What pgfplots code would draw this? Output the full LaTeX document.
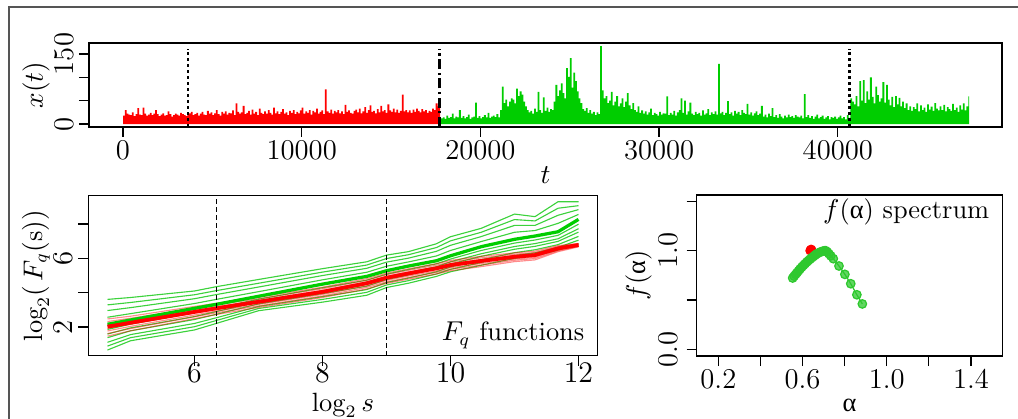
\documentclass[border=0pt]{standalone}
\usepackage{fontspec}
\usepackage{pgfplots}
\pgfplotsset{compat=1.18}
\usepackage{pgfplotstable}
\newfontfamily\grfont{Liberation Serif}
\definecolor{rgreen}{HTML}{00CD00}
\definecolor{lgreen}{HTML}{3CD23C}
\definecolor{fgreen}{HTML}{2EC82E}
\definecolor{framegray}{HTML}{555555}

\pgfplotstableread{
x T L2 L3 L4 G L6 L7 L8 L9 L10 B R R1 R2 R3 R4 R5 R6 R7 R8
4.64 3.61 3.29 2.96 2.57 2.16 1.86 1.59 1.38 1.11 0.89 0.66 2.02 2.47 2.32 2.17 2.07 1.92 1.77 1.62 1.47
5.00 3.72 3.43 3.13 2.78 2.41 2.17 1.95 1.78 1.56 1.38 1.20 2.25 2.63 2.51 2.38 2.29 2.16 2.04 1.91 1.78
6.00 4.10 3.88 3.65 3.37 3.09 2.84 2.61 2.44 2.21 2.02 1.83 2.88 3.20 3.09 2.99 2.92 2.81 2.70 2.60 2.49
6.34 4.35 4.12 3.89 3.61 3.32 3.10 2.90 2.74 2.54 2.38 2.21 3.09 3.38 3.29 3.19 3.12 3.02 2.93 2.83 2.73
7.00 4.77 4.55 4.33 4.06 3.79 3.62 3.47 3.35 3.20 3.08 2.95 3.47 3.74 3.65 3.56 3.50 3.41 3.32 3.23 3.14
8.00 5.40 5.20 5.00 4.75 4.50 4.29 4.10 3.95 3.77 3.61 3.45 4.05 4.32 4.23 4.14 4.08 3.99 3.90 3.81 3.72
8.69 5.80 5.61 5.42 5.19 4.95 4.73 4.53 4.38 4.18 4.02 3.85 4.55 4.82 4.73 4.64 4.58 4.49 4.40 4.31 4.22
9.00 6.19 5.99 5.78 5.54 5.28 5.08 4.91 4.77 4.59 4.45 4.30 4.87 5.14 5.05 4.96 4.90 4.81 4.72 4.63 4.54
9.34 6.39 6.21 6.01 5.79 5.55 5.35 5.17 5.03 4.85 4.70 4.55 5.12 5.39 5.30 5.21 5.15 5.06 4.97 4.88 4.79
9.78 6.85 6.63 6.41 6.14 5.86 5.68 5.51 5.39 5.22 5.09 4.95 5.42 5.69 5.60 5.51 5.45 5.36 5.27 5.18 5.09
10.00 7.26 7.02 6.76 6.46 6.15 5.96 5.80 5.67 5.50 5.36 5.22 5.61 5.88 5.79 5.70 5.64 5.55 5.46 5.37 5.28
10.48 7.75 7.52 7.27 6.98 6.68 6.46 6.27 6.12 5.92 5.76 5.60 5.85 6.12 6.03 5.94 5.88 5.79 5.70 5.61 5.52
11.00 8.58 8.26 7.92 7.52 7.11 6.89 6.69 6.53 6.33 6.17 6.00 6.09 6.32 6.24 6.17 6.12 6.04 5.96 5.89 5.81
11.32 8.43 8.18 7.92 7.62 7.30 7.07 6.86 6.70 6.50 6.32 6.15 6.19 6.42 6.34 6.27 6.22 6.14 6.06 5.99 5.91
11.68 9.30 8.92 8.51 8.04 7.55 7.34 7.14 6.99 6.80 6.64 6.48 6.58 6.74 6.69 6.63 6.60 6.54 6.49 6.44 6.39
12.00 9.30 9.07 8.84 8.56 8.27 7.99 7.73 7.53 7.28 7.06 6.85 6.78 6.87 6.84 6.81 6.79 6.76 6.73 6.70 6.67
}\fqtable

\pgfplotstableread{
a f
0.553 0.723
0.560 0.742
0.567 0.760
0.574 0.778
0.581 0.796
0.588 0.814
0.596 0.833
0.604 0.851
0.612 0.868
0.620 0.885
0.628 0.900
0.636 0.915
0.644 0.929
0.652 0.942
0.660 0.956
0.668 0.968
0.677 0.979
0.686 0.988
0.695 0.995
0.703 0.999
0.710 1.000
0.717 0.988
0.725 0.970
0.734 0.948
0.746 0.919
0.773 0.845
0.801 0.760
0.829 0.665
0.858 0.553
0.884 0.460
}\falphagreen

\pgfplotstableread{
a f
0.635 1.000
0.638 1.010
0.641 1.015
0.644 1.008
}\falphared

\pgfplotsset{
  rstyle/.style={
    scale only axis,
    anchor=south west,
    axis line style={line width=0.5bp},
    tick align=outside,
    xtick pos=bottom, ytick pos=left,
    major tick length=4bp,
    tick style={line width=0.5bp, black},
    scaled x ticks=false, scaled y ticks=false,
    yticklabel style={rotate=90, anchor=base, inner sep=0pt, font=\fontsize{11.5}{13.8}\selectfont},
    xticklabel style={anchor=north, inner sep=0pt, font=\fontsize{11.5}{13.8}\selectfont},
    label style={font=\fontsize{10.6}{12.7}\selectfont},
    ylabel style={anchor=center},
    xlabel style={anchor=center},
  }
}

\begin{document}
\begin{tikzpicture}
\useasboundingbox (0,0) rectangle (407.2bp,167.6bp);
\draw[framegray, line width=0.5bp] (3.6bp,0) -- (3.6bp,164.8bp) -- (407.2bp,164.8bp);

% ---------------- time series ----------------
\begin{axis}[rstyle, at={(35.6bp,116.8bp)}, width=365.2bp, height=33.6bp,
  xmin=-1903, xmax=49188, ymin=-6.4, ymax=173.6,
  xtick={0,10000,20000,30000,40000}, xticklabels={0,10000,20000,30000,40000},
  ytick={0,50,100,150}, yticklabels={0,,,150},
  yticklabel shift=2.4bp, xticklabel shift=1bp,
  xlabel={$t$}, ylabel={$x(t)$},
  xlabel style={at={(axis description cs:0.5,-0.571)}},
  ylabel style={at={(axis description cs:-0.058,0.5)}},
]
\addplot[const plot, fill=red, draw=none] coordinates {
(0,18)(100,30)(200,22)(300,20)(400,19)(500,25)(600,17)(700,21)(800,34)(900,20)(1000,19)(1100,35)(1200,22)(1300,18)(1400,20)(1500,24)(1600,19)(1700,22)(1800,30)(1900,21)
(2000,17)(2100,20)(2200,23)(2300,18)(2400,19)(2500,27)(2600,21)(2700,16)(2800,19)(2900,22)(3000,20)(3100,18)(3200,24)(3300,21)(3400,19)(3500,17)(3600,20)(3700,23)(3800,26)(3900,19)
(4000,21)(4100,24)(4200,18)(4300,22)(4400,26)(4500,20)(4600,19)(4700,28)(4800,22)(4900,25)(5000,19)(5100,23)(5200,30)(5300,21)(5400,18)(5500,26)(5600,22)(5700,27)(5800,20)(5900,24)
(6000,23)(6100,29)(6200,19)(6300,44)(6400,26)(6500,22)(6600,25)(6700,39)(6800,21)(6900,24)(7000,28)(7100,20)(7200,31)(7300,22)(7400,26)(7500,19)(7600,33)(7700,24)(7800,21)(7900,27)
(8000,22)(8100,30)(8200,24)(8300,20)(8400,35)(8500,23)(8600,27)(8700,21)(8800,26)(8900,32)(9000,22)(9100,25)(9200,19)(9300,28)(9400,24)(9500,30)(9600,21)(9700,26)(9800,23)(9900,29)
(10000,35)(10100,22)(10200,27)(10300,24)(10400,30)(10500,20)(10600,28)(10700,25)(10800,33)(10900,22)(11000,26)(11100,29)(11200,21)(11300,74)(11400,27)(11500,24)(11600,31)(11700,22)(11800,28)(11900,25)
(12000,30)(12100,23)(12200,27)(12300,21)(12400,41)(12500,26)(12600,29)(12700,24)(12800,22)(12900,28)(13000,31)(13100,25)(13200,33)(13300,23)(13400,27)(13500,36)(13600,24)(13700,30)(13800,40)(13900,26)
(14000,28)(14100,23)(14200,32)(14300,25)(14400,39)(14500,27)(14600,30)(14700,24)(14800,42)(14900,29)(15000,26)(15100,33)(15200,25)(15300,31)(15400,24)(15500,28)(15600,63)(15700,27)(15800,30)(15900,25)
(16000,29)(16100,24)(16200,31)(16300,26)(16400,33)(16500,28)(16600,25)(16700,32)(16800,27)(16900,30)(17000,24)(17100,28)(17200,26)(17300,33)(17400,30)(17500,44)(17600,38)(17700,42)(17750,42)
} \closedcycle;
\addplot[const plot, fill=rgreen, draw=none] coordinates {
(17750,12)(17800,12)(17900,14)(18000,11)(18100,18)(18200,13)(18300,15)(18400,22)(18500,12)(18600,16)(18700,14)(18800,30)(18900,13)(19000,17)(19100,12)(19200,15)(19300,20)(19400,11)(19500,14)(19600,16)(19700,46)
(19800,13)(19900,17)(20000,12)(20100,15)(20200,19)(20300,14)(20400,24)(20500,13)(20600,16)(20700,18)(20800,15)(20900,21)(21000,14)(21100,30)(21200,80)(21300,45)(21400,52)(21500,38)(21600,48)(21700,55)
(21800,52)(21900,44)(22000,76)(22100,60)(22200,70)(22300,63)(22400,48)(22500,38)(22600,30)(22700,25)(22800,28)(22900,22)(23000,33)(23100,26)(23200,69)(23300,30)(23400,24)(23500,57)(23600,28)(23700,35)
(23800,26)(23900,32)(24000,30)(24100,48)(24200,84)(24300,60)(24400,72)(24500,87)(24600,66)(24700,55)(24800,120)(24900,101)(25000,141)(25100,78)(25200,110)(25300,92)(25400,70)(25500,55)(25600,45)(25700,32)
(25800,28)(25900,34)(26000,24)(26100,30)(26200,22)(26300,26)(26400,19)(26500,25)(26600,21)(26700,167)(26800,72)(26900,55)(27000,60)(27100,45)(27200,50)(27300,69)(27400,40)(27500,48)(27600,60)(27700,38)
(27800,44)(27900,55)(28000,36)(28100,48)(28200,66)(28300,40)(28400,32)(28500,45)(28600,30)(28700,26)(28800,38)(28900,24)(29000,29)(29100,22)(29200,27)(29300,20)(29400,25)(29500,33)(29600,19)(29700,24)
(29800,21)(29900,18)(30000,26)(30100,20)(30200,23)(30300,22)(30400,59)(30500,19)(30600,24)(30700,20)(30800,28)(30900,18)(31000,25)(31100,30)(31200,55)(31300,24)(31400,50)(31500,20)(31600,27)(31700,46)
(31800,22)(31900,19)(32000,26)(32100,21)(32200,24)(32300,18)(32400,29)(32500,20)(32600,23)(32700,32)(32800,19)(32900,25)(33000,21)(33100,27)(33200,20)(33300,129)(33400,23)(33500,26)(33600,19)(33700,24)
(33800,49)(33900,21)(34000,25)(34100,18)(34200,28)(34300,22)(34400,26)(34500,19)(34600,30)(34700,24)(34800,21)(34900,43)(35000,20)(35100,25)(35200,18)(35300,23)(35400,27)(35500,19)(35600,22)(35700,39)
(35800,16)(35900,20)(36000,14)(36100,22)(36200,17)(36300,34)(36400,15)(36500,19)(36600,13)(36700,21)(36800,16)(36900,12)(37000,18)(37100,14)(37200,20)(37300,15)(37400,17)(37500,13)(37600,19)(37700,16)
(37800,14)(37900,18)(38000,12)(38100,64)(38200,15)(38300,19)(38400,13)(38500,17)(38600,11)(38700,16)(38800,20)(38900,12)(39000,15)(39100,18)(39200,11)(39300,14)(39400,17)(39500,10)(39600,15)(39700,13)
(39800,16)(39900,11)(40000,14)(40100,18)(40200,12)(40300,15)(40400,10)(40500,19)(40600,13)(40700,55)(40800,48)(40900,42)(41000,60)(41100,38)(41200,92)(41300,50)(41400,94)(41500,45)(41600,70)(41700,52)
(41800,100)(41900,58)(42000,44)(42100,80)(42200,62)(42300,48)(42400,55)(42500,90)(42600,46)(42700,84)(42800,52)(42900,40)(43000,58)(43100,36)(43200,60)(43300,42)(43400,56)(43500,38)(43600,48)(43700,34)
(43800,44)(43900,30)(44000,38)(44100,28)(44200,36)(44300,32)(44400,44)(44500,27)(44600,40)(44700,30)(44800,35)(44900,26)(45000,42)(45100,31)(45200,37)(45300,28)(45400,45)(45500,33)(45600,29)(45700,38)
(45800,30)(45900,41)(46000,27)(46100,36)(46200,32)(46300,28)(46400,43)(46500,30)(46600,35)(46700,26)(46800,40)(46900,31)(47000,44)(47100,29)(47200,38)(47300,59)(47350,59)
} \closedcycle;
\addplot[black, line width=0.9bp, dash pattern=on 1bp off 1.4bp] coordinates {(3637,-6.4) (3637,161)};
\addplot[black, line width=0.9bp, dash pattern=on 4bp off 1.4bp on 0.9bp off 1.4bp] coordinates {(17710,-6.4) (17710,161)};
\addplot[black, line width=0.9bp, dash pattern=on 1bp off 1.4bp] coordinates {(40660,-6.4) (40660,161)};
\node[font=\fontsize{10.6}{12.7}\selectfont, anchor=base] at (axis description cs:0.5,1.083) {time series};
\end{axis}

% ---------------- Fq functions ----------------
\begin{axis}[rstyle, at={(35.32bp,25.32bp)}, width=203.76bp, height=64bp,
  xmin=4.34, xmax=12.30, ymin=0.33, ymax=9.65,
  xtick={6,8,10,12}, ytick={2,4,6,8}, yticklabels={2,,6,},
  yticklabel shift=2.4bp, xticklabel shift=-1.2bp,
  xlabel={$\log_2 s$}, ylabel={$\log_2(\,F_q(\mathrm{s}))$},
  xlabel style={at={(axis description cs:0.5,-0.31)}, inner sep=0pt},
  ylabel style={at={(axis description cs:-0.103,0.5)}},
]
\pgfplotsinvokeforeach{T,L2,L3,L4,L6,L7,L8,L9,L10,B}{
  \addplot[lgreen, line width=0.45bp] table[x=x, y=#1] {\fqtable};
}
\pgfplotsinvokeforeach{R1,R2,R3,R4,R5,R6,R7,R8}{
  \addplot[red, opacity=0.45, line width=0.45bp] table[x=x, y=#1] {\fqtable};
}
\addplot[rgreen, line width=1.3bp] table[x=x, y=G] {\fqtable};
\addplot[red, line width=1.5bp] table[x=x, y=R] {\fqtable};
\addplot[black, line width=0.5bp, dash pattern=on 1.7bp off 1.5bp] coordinates {(6.34,0.33) (6.34,9.65)};
\addplot[black, line width=0.5bp, dash pattern=on 1.7bp off 1.5bp] coordinates {(9.0,0.33) (9.0,9.65)};
\node[font=\fontsize{10.6}{12.7}\selectfont, anchor=base east] at (axis description cs:0.991,0.092) {$F_q$ functions};
\end{axis}

% ---------------- f(alpha) spectrum ----------------
\begin{axis}[rstyle, at={(278.68bp,25.2bp)}, width=122.24bp, height=64.4bp,
  xmin=0.097, xmax=1.549, ymin=-0.068, ymax=1.565,
  xtick={0.2,0.4,0.6,0.8,1.0,1.2,1.4}, xticklabels={0.2,,0.6,,1.0,,1.4},
  ytick={0,0.5,1,1.5}, yticklabels={0.0,,1.0,},
  yticklabel shift=3.6bp, xticklabel shift=1bp,
  xlabel={{\grfont α}}, ylabel={$f$({\grfont α})},
  xlabel style={at={(axis description cs:0.5,-0.304)}},
  ylabel style={at={(axis description cs:-0.19,0.5)}},
]
\addplot[red, line width=0.5bp, mark=*, mark size=1.6bp,
  mark options={draw=none, fill=red, fill opacity=0.85}] table[x=a, y=f] {\falphared};
\addplot[fgreen, line width=0.5bp, mark=*, mark size=1.7bp,
  mark options={draw=none, fill=fgreen, fill opacity=0.75}] table[x=a, y=f] {\falphagreen};
\node[font=\fontsize{10.6}{12.7}\selectfont, anchor=base east] at (axis description cs:0.986,0.855) {$f$({\grfont α}) spectrum};
\end{axis}
\end{tikzpicture}
\end{document}
